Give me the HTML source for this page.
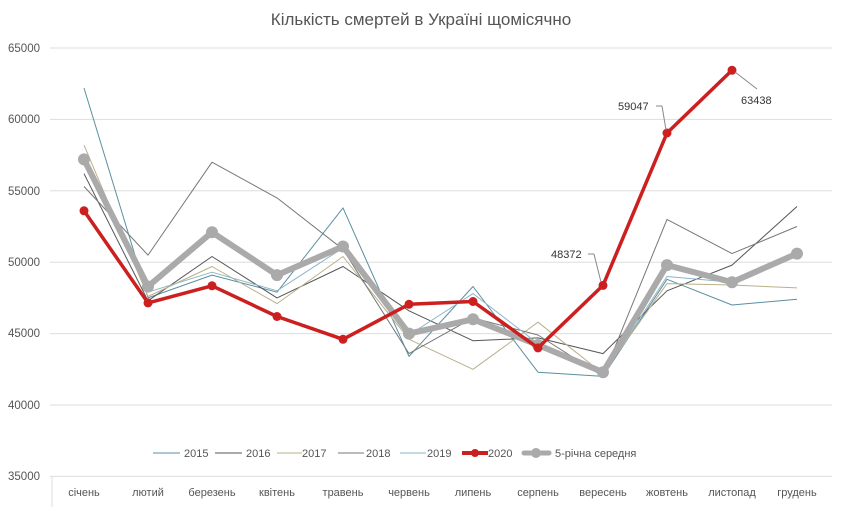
<!DOCTYPE html><html><head><meta charset="utf-8"><style>body{margin:0;background:#fff}svg{display:block}text{font-family:"Liberation Sans",sans-serif}</style></head><body>
<svg width="843" height="507" xmlns="http://www.w3.org/2000/svg">
<text x="421" y="25" text-anchor="middle" font-size="17" fill="#555">Кількість смертей в Україні щомісячно</text>
<g stroke="#ddd" stroke-width="1">
<line x1="50" x2="832" y1="48" y2="48"/><line x1="50" x2="832" y1="119.4" y2="119.4"/><line x1="50" x2="832" y1="190.8" y2="190.8"/><line x1="50" x2="832" y1="262.2" y2="262.2"/><line x1="50" x2="832" y1="333.6" y2="333.6"/><line x1="50" x2="832" y1="405" y2="405"/><line x1="50" x2="832" y1="476.4" y2="476.4"/>
<line x1="52" x2="52" y1="476" y2="507"/>
</g>
<g font-size="11.5" fill="#555" text-anchor="end">
<text x="40" y="52">65000</text><text x="40" y="123">60000</text><text x="40" y="195">55000</text><text x="40" y="266">50000</text><text x="40" y="337">45000</text><text x="40" y="409">40000</text><text x="40" y="480">35000</text>
</g>
<g font-size="11" fill="#555" text-anchor="middle">
<text x="84" y="496">січень</text><text x="148" y="496">лютий</text><text x="212" y="496">березень</text><text x="277" y="496">квітень</text><text x="343" y="496">травень</text><text x="409" y="496">червень</text><text x="473" y="496">липень</text><text x="538" y="496">серпень</text><text x="603" y="496">вересень</text><text x="667" y="496">жовтень</text><text x="732" y="496">листопад</text><text x="797" y="496">грудень</text>
</g>
<g id="lines" fill="none"></g>
<g font-size="11" fill="#333">
<text x="618" y="110">59047</text><line x1="656" y1="106" x2="662" y2="106" stroke="#888"/><line x1="662" y1="106" x2="666" y2="130" stroke="#888"/>
<text x="741" y="104">63438</text><line x1="735" y1="72" x2="757" y2="89" stroke="#888"/>
<text x="551" y="258">48372</text><line x1="588" y1="254" x2="594" y2="254" stroke="#888"/><line x1="594" y1="254" x2="601" y2="282" stroke="#888"/>
</g>
<g font-size="11" fill="#555">
<line x1="153" x2="180" y1="453" y2="453" stroke="#5b8fa0"/><text x="184" y="457">2015</text>
<line x1="215" x2="242" y1="453" y2="453" stroke="#555"/><text x="246" y="457">2016</text>
<line x1="277" x2="302" y1="453" y2="453" stroke="#b9b08a"/><text x="302" y="457">2017</text>
<line x1="338" x2="364" y1="453" y2="453" stroke="#777"/><text x="366" y="457">2018</text>
<line x1="400" x2="426" y1="453" y2="453" stroke="#8cb6c8"/><text x="427" y="457">2019</text>
<line x1="462" x2="488" y1="453" y2="453" stroke="#cc1f1f" stroke-width="4"/><circle cx="475" cy="453" r="4" fill="#cc1f1f"/><text x="488" y="457">2020</text>
<line x1="524" x2="549" y1="453" y2="453" stroke="#aaa" stroke-width="5" stroke-linecap="round"/><circle cx="536" cy="453" r="5" fill="#aaa"/><text x="555" y="457">5-річна середня</text>
</g>
</svg>
<script>
var X=[84,148,212,277,343,409,473,538,603,667,732,797];
function y(v){return 48+(65000-v)/5000*71.4;}
var S=[
["#5b8fa0",1,[62200,47500,49100,47900,53800,43400,48300,42300,42000,48800,47000,47400]],
["#555",1,[56200,47300,50400,47500,49700,46600,44500,44700,43600,48000,49800,53900]],
["#b9b08a",1,[58200,47600,49700,47100,50400,44600,42500,45800,42200,48500,48400,48200]],
["#777",1,[55300,50500,57000,54500,50900,43600,46100,44900,42000,53000,50600,52500]],
["#8cb6c8",1,[57000,47900,49300,48000,51000,44900,47800,44300,42100,49000,48600,50600]],
["#aaa",6,[57200,48300,52100,49100,51100,45000,46000,44200,42300,49800,48600,50600],6],
["#cc1f1f",3.5,[53600,47150,48350,46200,44600,47050,47250,44000,48372,59047,63438],4.5]];
var g=document.getElementById('lines'),h='';
S.forEach(function(s){var p=s[2].map(function(v,i){return X[i]+','+y(v).toFixed(1)}).join(' ');
h+='<polyline points="'+p+'" stroke="'+s[0]+'" stroke-width="'+s[1]+'" stroke-linejoin="round"/>';
if(s[3])s[2].forEach(function(v,i){h+='<circle cx="'+X[i]+'" cy="'+y(v).toFixed(1)+'" r="'+s[3]+'" fill="'+s[0]+'"/>'});});
g.innerHTML=h;
</script>
</body></html>
